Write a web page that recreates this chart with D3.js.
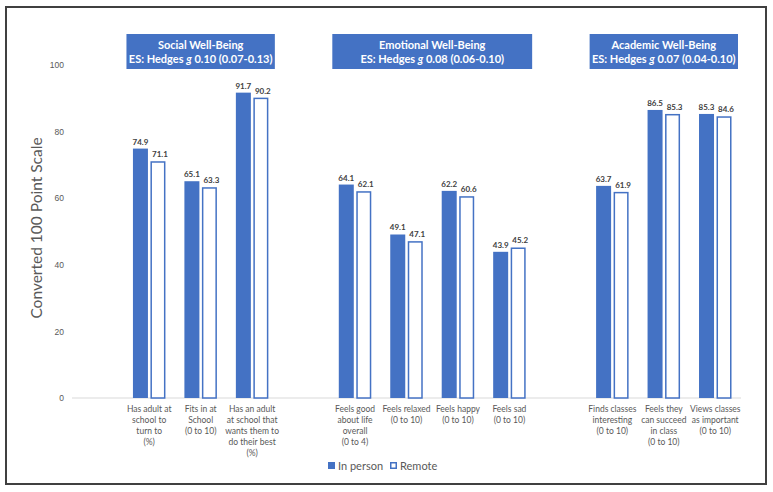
<!DOCTYPE html>
<html>
<head>
<meta charset="utf-8">
<script src="https://cdn.jsdelivr.net/npm/d3@7"></script>
<style>
  body { margin: 0; background: #fff; }
  svg { font-family: Lato, "Open Sans", sans-serif; }
</style>
</head>
<body>
<svg id="chart" width="773" height="492"></svg>
<script>
// slots: "" are the empty spacer categories, like in the excel sheet
var categories = ["",
    "Has adult at|school to|turn to|(%)", "Fits in at|School|(0 to 10)", "Has an adult|at school that|wants them to|do their best|(%)",
    " ",
    "Feels good|about life|overall|(0 to 4)", "Feels relaxed|(0 to 10)", "Feels happy|(0 to 10)", "Feels sad|(0 to 10)",
    "  ",
    "Finds classes|interesting|(0 to 10)", "Feels they|can succeed|in class|(0 to 10)", "Views classes|as important|(0 to 10)"];
var inPerson = [null, 74.9, 65.1, 91.7, null, 64.1, 49.1, 62.2, 43.9, null, 63.7, 86.5, 85.3];
var remote   = [null, 71.1, 63.3, 90.2, null, 62.1, 47.1, 60.6, 45.2, null, 61.9, 85.3, 84.6];
var yTicks = [0, 20, 40, 60, 80, 100];
var headers = [
    {"first": 1, "last": 3, "title": "Social Well-Being", "g": "0.10 (0.07-0.13)"},
    {"first": 5, "last": 8, "title": "Emotional Well-Being", "g": "0.08 (0.06-0.10)"},
    {"first": 10, "last": 12, "title": "Academic Well-Being", "g": "0.07 (0.04-0.10)"}];
var seriesNames = ["In person", "Remote"];

var blue = "#4472C4";
var svg = d3.select("#chart");

// outer frame
svg.append("rect").attr("x", 6).attr("y", 7).attr("width", 760).attr("height", 477)
    .attr("fill", "none").attr("stroke", "#404040").attr("stroke-width", 2);

var xScale = d3.scaleBand()
    .domain(categories)
    .range([72, 741]);

var yScale = d3.scaleLinear()
    .domain([0, 100])
    .range([398, 65]);

var barW = 15, barGap = 2.5;

// baseline
svg.append("line")
    .attr("x1", 72).attr("x2", 741)
    .attr("y1", yScale(0)).attr("y2", yScale(0))
    .attr("stroke", "#d9d9d9").attr("stroke-width", 1);

// y axis labels
var yAxis = svg.append("g")
    .attr("transform", "translate(64,0)")
    .call(d3.axisLeft(yScale).tickValues(yTicks).tickSize(0).tickPadding(0));
yAxis.select(".domain").remove();
yAxis.selectAll("text").attr("fill", "#595959").attr("font-size", 8.5);

svg.append("text")
    .attr("transform", "translate(42,228) rotate(-90)")
    .attr("text-anchor", "middle")
    .attr("fill", "#595959")
    .attr("font-size", 15.5)
    .text("Converted 100 Point Scale");

var data = categories.map(function(c, i){ return {"cat": c, "a": inPerson[i], "b": remote[i]}; })
    .filter(function(d){ return d.a != null; });

function center(d){ return xScale(d.cat) + xScale.bandwidth() / 2; }

svg.selectAll(".barA")
    .data(data)
    .enter().append("rect")
    .attr("class", "barA")
    .attr("x", function(d){ return center(d) - barGap / 2 - barW; })
    .attr("y", function(d){ return yScale(d.a); })
    .attr("width", barW)
    .attr("height", function(d){ return yScale(0) - yScale(d.a); })
    .attr("fill", blue);

svg.selectAll(".barB")
    .data(data)
    .enter().append("rect")
    .attr("class", "barB")
    .attr("x", function(d){ return center(d) + barGap / 2 + 0.75; })
    .attr("y", function(d){ return yScale(d.b) + 0.75; })
    .attr("width", barW - 1.5)
    .attr("height", function(d){ return yScale(0) - yScale(d.b) - 0.75; })
    .attr("fill", "#fff")
    .attr("stroke", blue)
    .attr("stroke-width", 1.5);

// value labels
svg.selectAll(".lblA")
    .data(data)
    .enter().append("text")
    .attr("x", function(d){ return center(d) - barGap / 2 - barW / 2; })
    .attr("y", function(d){ return yScale(d.a) - 4; })
    .attr("text-anchor", "middle")
    .attr("font-size", 8).attr("font-weight", "bold").attr("fill", "#404040")
    .text(function(d){ return d.a.toFixed(1); });

svg.selectAll(".lblB")
    .data(data)
    .enter().append("text")
    .attr("x", function(d){ return center(d) + barGap / 2 + barW / 2 + 2; })
    .attr("y", function(d){ return yScale(d.b) - 4; })
    .attr("text-anchor", "middle")
    .attr("font-size", 8).attr("font-weight", "bold").attr("fill", "#404040")
    .text(function(d){ return d.b.toFixed(1); });

// category labels
data.forEach(function(d){
    var t = svg.append("text")
        .attr("text-anchor", "middle")
        .attr("font-size", 8.5)
        .attr("fill", "#595959");
    d.cat.split("|").forEach(function(line, j){
        t.append("tspan").attr("x", center(d)).attr("y", 412 + j * 11).text(line);
    });
});

// group header boxes
headers.forEach(function(h){
    var x0 = xScale(categories[h.first]) + 3;
    var x1 = xScale(categories[h.last]) + xScale.bandwidth() - 3;
    svg.append("rect")
        .attr("x", x0).attr("y", 34).attr("width", x1 - x0).attr("height", 35)
        .attr("fill", blue);
    var cx = (x0 + x1) / 2;
    svg.append("text").attr("x", cx).attr("y", 49)
        .attr("text-anchor", "middle").attr("fill", "#fff")
        .attr("font-size", 11).attr("font-weight", "bold")
        .text(h.title);
    var t2 = svg.append("text").attr("x", cx).attr("y", 63)
        .attr("text-anchor", "middle").attr("fill", "#fff")
        .attr("font-size", 11).attr("font-weight", "bold");
    t2.append("tspan").text("ES: Hedges ");
    t2.append("tspan").attr("font-style", "italic").text("g");
    t2.append("tspan").text(" " + h.g);
});

// legend
var legend = svg.append("g").attr("transform", "translate(328,462)");
legend.append("rect").attr("x", 0).attr("y", 0).attr("width", 7).attr("height", 7).attr("fill", blue);
legend.append("text").attr("x", 10).attr("y", 7.5).attr("font-size", 11).attr("fill", "#595959").text(seriesNames[0]);
legend.append("rect").attr("x", 62.75).attr("y", 0.75).attr("width", 5.5).attr("height", 5.5)
    .attr("fill", "#fff").attr("stroke", blue).attr("stroke-width", 1.5);
legend.append("text").attr("x", 72).attr("y", 7.5).attr("font-size", 11).attr("fill", "#595959").text(seriesNames[1]);
</script>
</body>
</html>
